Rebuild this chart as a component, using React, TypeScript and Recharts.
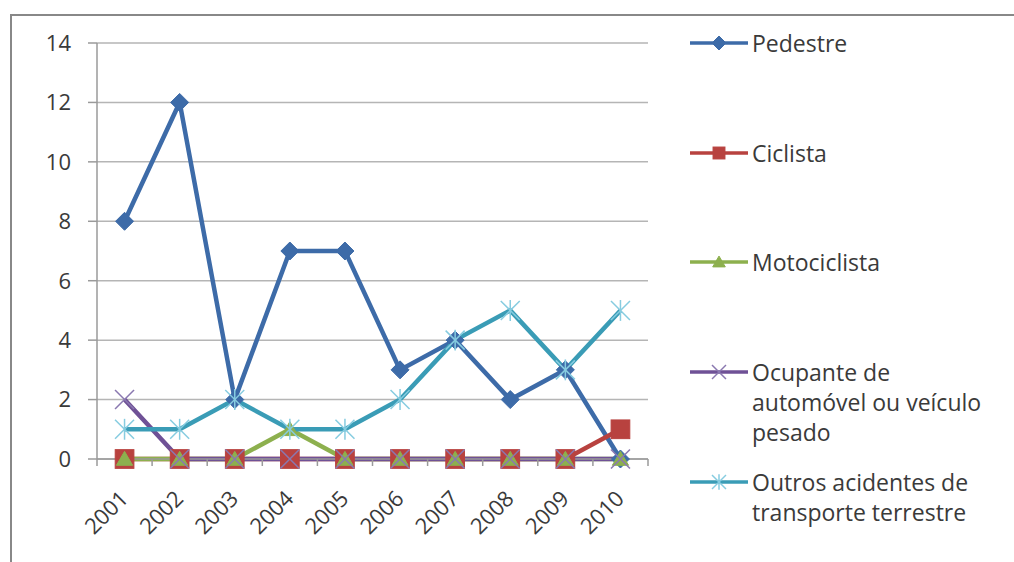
import React from 'react';
import { LineChart, Line, XAxis, YAxis, CartesianGrid, Legend } from 'recharts';

const years = ['2001', '2002', '2003', '2004', '2005', '2006', '2007', '2008', '2009', '2010'];
const pedestre = [8, 12, 2, 7, 7, 3, 4, 2, 3, 0];
const ciclista = [0, 0, 0, 0, 0, 0, 0, 0, 0, 1];
const motociclista = [0, 0, 0, 1, 0, 0, 0, 0, 0, 0];
const ocupante = [2, 0, 0, 0, 0, 0, 0, 0, 0, 0];
const outros = [1, 1, 2, 1, 1, 2, 4, 5, 3, 5];
const yTicks = [0, 2, 4, 6, 8, 10, 12, 14];

const seriesKeys = ['pedestre', 'ciclista', 'motociclista', 'ocupante', 'outros'];
const seriesLabels = [
  ['Pedestre'],
  ['Ciclista'],
  ['Motociclista'],
  ['Ocupante de', 'automóvel ou veículo', 'pesado'],
  ['Outros acidentes de', 'transporte terrestre'],
];
const seriesColors = ['#3D6BA8', '#B8423F', '#8DB04E', '#6F5196', '#3A9CB6'];
const seriesShapes = ['diamond', 'square', 'triangle', 'x', 'star'];
const legendTops = [28, 138, 247, 357, 467];

const data = years.map((year, i) => ({
  year,
  pedestre: pedestre[i],
  ciclista: ciclista[i],
  motociclista: motociclista[i],
  ocupante: ocupante[i],
  outros: outros[i],
}));

const FONT = '"Open Sans", "DejaVu Sans", sans-serif';
const TEXT = '#3a3a3a';

function markerShape(shape: string, color: string, cx: number, cy: number, s: number, key?: any) {
  switch (shape) {
    case 'diamond':
      return (
        <polygon key={key} points={`${cx},${cy - s} ${cx + s},${cy} ${cx},${cy + s} ${cx - s},${cy}`} fill={color} stroke={color} strokeWidth={1} />
      );
    case 'square':
      return <rect key={key} x={cx - s * 0.85} y={cy - s * 0.85} width={s * 1.7} height={s * 1.7} fill={color} stroke={color} />;
    case 'triangle':
      return (
        <polygon key={key} points={`${cx},${cy - s * 0.85} ${cx + s * 0.9},${cy + s * 0.7} ${cx - s * 0.9},${cy + s * 0.7}`} fill={color} stroke={color} />
      );
    case 'x':
      return (
        <g key={key} stroke={color} strokeWidth={1.5}>
          <line x1={cx - s} y1={cy - s} x2={cx + s} y2={cy + s} />
          <line x1={cx - s} y1={cy + s} x2={cx + s} y2={cy - s} />
        </g>
      );
    default:
      return (
        <g key={key} stroke={color} strokeWidth={1.5}>
          <line x1={cx - s} y1={cy - s} x2={cx + s} y2={cy + s} />
          <line x1={cx - s} y1={cy + s} x2={cx + s} y2={cy - s} />
          <line x1={cx} y1={cy - s * 1.1} x2={cx} y2={cy + s * 1.1} />
        </g>
      );
  }
}

const makeDot = (shape: string, color: string, size: number) => (props: any) => {
  const { cx, cy, index } = props;
  if (cx == null || cy == null) return <g key={`d-${index}`} />;
  return markerShape(shape, color, cx, cy, size, `d-${shape}-${index}`);
};

const markerColors = ['#3D6BA8', '#B8423F', '#8DB04E', '#8A78B0', '#86CCE0'];
const markerSizes = [9, 11, 9, 9.5, 9.5];

const XTick = (props: any) => {
  const { x, y, payload, index, width, visibleTicksCount } = props;
  const half = width / (visibleTicksCount || years.length) / 2;
  const axisY = y - 6;
  const tx = x + 5;
  const ty = axisY + 41;
  return (
    <g>
      <line x1={x - half} y1={axisY} x2={x - half} y2={axisY + 7} stroke="#9a9a9a" strokeWidth={1.5} />
      {index === (visibleTicksCount || years.length) - 1 && (
        <line x1={x + half} y1={axisY} x2={x + half} y2={axisY + 7} stroke="#9a9a9a" strokeWidth={1.5} />
      )}
      <text
        x={tx}
        y={ty}
        transform={`rotate(-45, ${tx}, ${ty})`}
        textAnchor="end"
        fontFamily={FONT}
        fontSize={22}
        fill={TEXT}
      >
        {payload.value}
      </text>
    </g>
  );
};

const LegendContent = () => (
  <div style={{ position: 'relative', width: 320, height: 562, fontFamily: FONT }}>
    {seriesKeys.map((k, i) => (
      <div key={k} style={{ position: 'absolute', left: 0, top: legendTops[i], display: 'flex', alignItems: 'flex-start' }}>
        <svg width={62} height={30} style={{ flex: 'none' }}>
          <line x1={0} y1={15} x2={58} y2={15} stroke={seriesColors[i]} strokeWidth={3.5} />
          {markerShape(seriesShapes[i], markerColors[i], 29, 15, 7)}
        </svg>
        <div style={{ fontSize: 23, lineHeight: '30px', color: TEXT, whiteSpace: 'nowrap' }}>
          {seriesLabels[i].map((l, j) => (
            <div key={j}>{l}</div>
          ))}
        </div>
      </div>
    ))}
  </div>
);

export default function App() {
  return (
    <div style={{ position: 'absolute', left: 0, top: 0, width: 1014, height: 562, background: '#fff' }}>
      <div
        style={{
          position: 'absolute',
          left: 10,
          top: 14,
          width: 1004,
          height: 548,
          borderTop: '2px solid #888',
          borderLeft: '2px solid #888',
          boxSizing: 'border-box',
        }}
      />
      <div style={{ position: 'absolute', left: 0, top: 0 }}>
        <LineChart width={1014} height={562} data={data} margin={{ top: 43, right: 366, left: 10, bottom: 23 }}>
          <CartesianGrid vertical={false} stroke="#b5b5b5" strokeWidth={1.5} />
          <XAxis
            dataKey="year"
            scale="band"
            height={80}
            tick={<XTick />}
            tickLine={false}
            tickSize={6}
            tickMargin={0}
            interval={0}
            axisLine={{ stroke: '#9a9a9a', strokeWidth: 1.5 }}
          />
          <YAxis
            width={87}
            domain={[0, 14]}
            ticks={yTicks}
            interval={0}
            tickSize={9}
            tickMargin={17}
            axisLine={{ stroke: '#9a9a9a', strokeWidth: 1.5 }}
            tickLine={{ stroke: '#9a9a9a', strokeWidth: 1.5 }}
            tick={{ fontFamily: FONT, fontSize: 22, fill: TEXT }}
          />
          <Legend
            layout="vertical"
            align="center"
            verticalAlign="middle"
            content={<LegendContent />}
            wrapperStyle={{ position: 'absolute', left: 690, top: 0, width: 320, height: 562 }}
          />
          {seriesKeys.map((k, i) => (
            <Line
              key={k}
              type="linear"
              dataKey={k}
              stroke={seriesColors[i]}
              strokeWidth={4.5}
              dot={makeDot(seriesShapes[i], markerColors[i], markerSizes[i])}
              activeDot={false}
              isAnimationActive={false}
            />
          ))}
        </LineChart>
      </div>
    </div>
  );
}
